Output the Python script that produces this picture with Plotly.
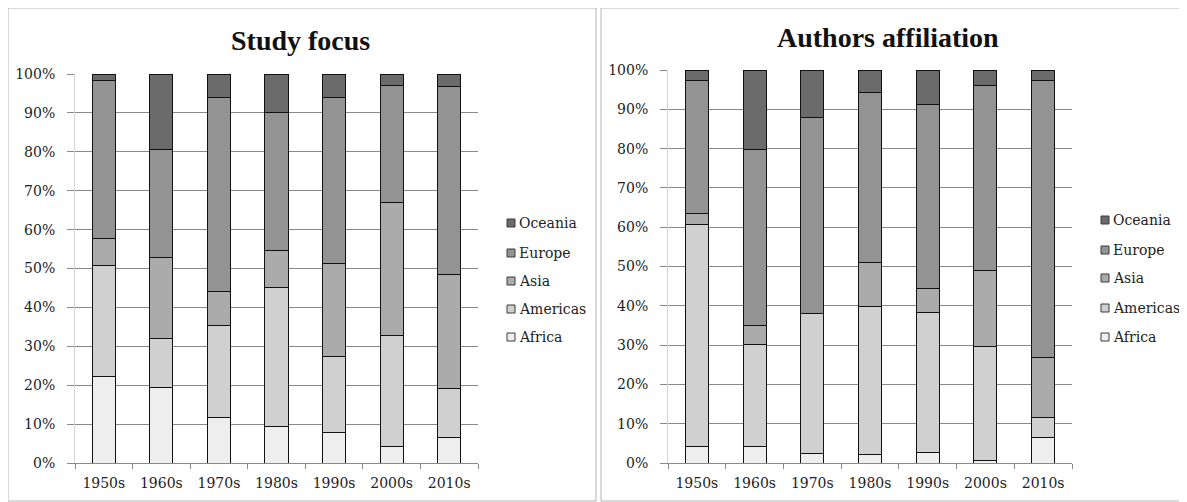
import plotly.graph_objects as go

decades = ["1950s", "1960s", "1970s", "1980s", "1990s", "2000s", "2010s"]
regions = ["Africa", "Americas", "Asia", "Europe", "Oceania"]
colors = ["#eeeeee", "#d0d0d0", "#ababab", "#939393", "#6b6b6b"]

# Study focus (% share per decade)
focus_africa = [22.3, 19.5, 11.8, 9.5, 7.9, 4.3, 6.6]
focus_americas = [28.5, 12.5, 23.6, 35.7, 19.5, 28.6, 12.5]
focus_asia = [6.9, 20.8, 8.8, 9.5, 23.8, 34.1, 29.3]
focus_europe = [40.7, 27.7, 49.8, 35.5, 42.8, 30.1, 48.3]
focus_oceania = [1.6, 19.5, 6.0, 9.8, 6.0, 2.9, 3.3]

# Authors affiliation (% share per decade)
affil_africa = [4.1, 4.1, 2.3, 2.1, 2.8, 0.7, 6.4]
affil_americas = [56.7, 26.0, 35.7, 37.6, 35.6, 29.0, 5.2]
affil_asia = [2.6, 4.9, 0.0, 11.4, 6.1, 19.3, 15.3]
affil_europe = [33.9, 44.8, 49.9, 43.1, 46.6, 47.0, 70.4]
affil_oceania = [2.7, 20.2, 12.1, 5.8, 8.9, 4.0, 2.7]

yticks = list(range(0, 101, 10))
ytick_text = [f"{v}%" for v in yticks]

W, H = 1187, 502
OFF = 8  # page body margin in the browser
FONT = "DejaVu Serif"

focus = [focus_africa, focus_americas, focus_asia, focus_europe, focus_oceania]
affil = [affil_africa, affil_americas, affil_asia, affil_europe, affil_oceania]


def px_x(v):
    return (v - OFF) / W


def px_y(v):
    return 1 - (v - OFF) / H


fig = go.Figure()
for i, r in enumerate(regions):
    fig.add_trace(go.Bar(x=decades, y=focus[i], name=r, marker_color=colors[i],
                         marker_line_color="#111111", marker_line_width=1,
                         xaxis="x", yaxis="y", showlegend=False))
for i, r in enumerate(regions):
    fig.add_trace(go.Bar(x=decades, y=affil[i], name=r, marker_color=colors[i],
                         marker_line_color="#111111", marker_line_width=1,
                         xaxis="x2", yaxis="y2", showlegend=False))

axis_common = dict(
    type="category", tickson="boundaries", ticks="outside", ticklen=5,
    tickcolor="#8a8a8a", showline=True, linecolor="#8a8a8a", linewidth=1,
    showgrid=False, tickfont=dict(family=FONT, size=14, color="#222222"),
    fixedrange=True, automargin=False, ticklabelstandoff=7,
)
yaxis_common = dict(
    range=[0, 100], tickvals=yticks, ticktext=ytick_text, ticks="outside",
    ticklen=7, tickcolor="#8a8a8a", showgrid=True, gridcolor="#8a8a8a",
    gridwidth=1, showline=True, linecolor="#d4d4d4", zeroline=False,
    tickfont=dict(family=FONT, size=14, color="#222222"), fixedrange=True,
    automargin=False, ticklabelstandoff=9,
)

# manual legend (Oceania at top), matching the Excel-style compact legend
legend_shapes = []
legend_annots = []
legend_specs = [
    (511, [337, 309, 281, 253, 223]),
    (1105, [337, 308, 278, 250, 220]),
]
for cx, ys in legend_specs:
    for i, r in enumerate(regions):
        cy = ys[i]
        legend_shapes.append(dict(
            type="rect", xref="paper", yref="paper",
            x0=px_x(cx - 4), x1=px_x(cx + 4), y0=px_y(cy + 4), y1=px_y(cy - 4),
            fillcolor=colors[i], line=dict(color="#3a3a3a", width=1)))
        legend_annots.append(dict(
            text=r, x=px_x(cx + 6), y=px_y(cy), xref="paper", yref="paper",
            showarrow=False, xanchor="left", yanchor="middle",
            font=dict(family=FONT, size=14, color="#222222")))

fig.update_layout(
    width=W, height=H,
    margin=dict(l=0, r=0, t=0, b=0, pad=0, autoexpand=False),
    paper_bgcolor="white", plot_bgcolor="white",
    barmode="stack", bargap=0.6, showlegend=False,
    xaxis=dict(domain=[px_x(75), px_x(478)], anchor="y", **axis_common),
    yaxis=dict(domain=[px_y(463), px_y(74)], anchor="x", **yaxis_common),
    xaxis2=dict(domain=[px_x(668), px_x(1072)], anchor="y2", **axis_common),
    yaxis2=dict(domain=[px_y(463), px_y(70)], anchor="x2", **yaxis_common),
    annotations=[
        dict(text="<b>Study focus</b>", x=px_x(300), y=px_y(41), xref="paper",
             yref="paper", showarrow=False, xanchor="center", yanchor="middle",
             font=dict(family="Liberation Serif", size=28, color="#111111")),
        dict(text="<b>Authors affiliation</b>", x=px_x(888), y=px_y(38),
             xref="paper", yref="paper", showarrow=False, xanchor="center",
             yanchor="middle",
             font=dict(family="Liberation Serif", size=28, color="#111111")),
    ] + legend_annots,
    shapes=[
        dict(type="rect", xref="paper", yref="paper", x0=px_x(8), x1=px_x(596),
             y0=px_y(501), y1=px_y(8), line=dict(color="#b4b4b4", width=1)),
        dict(type="rect", xref="paper", yref="paper", x0=px_x(601), x1=px_x(1200),
             y0=px_y(501), y1=px_y(8), line=dict(color="#b4b4b4", width=1)),
    ] + legend_shapes,
)

fig.write_html("out.html")
